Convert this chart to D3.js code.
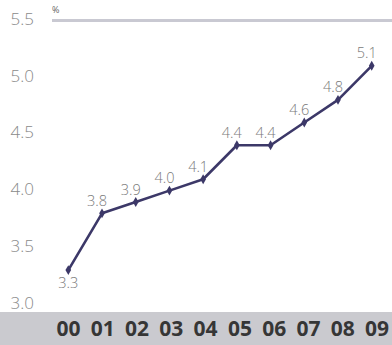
<!DOCTYPE html>
<html>
<head>
<meta charset="utf-8">
<script src="https://cdn.jsdelivr.net/npm/d3@7"></script>
<style>
  html, body { margin: 0; padding: 0; background: #ffffff; }
  svg { display: block; }
</style>
</head>
<body>
<svg id="chart" width="392" height="345"></svg>
<script>
// Annual values, 2000–2009 (%)
const years = ["00", "01", "02", "03", "04", "05", "06", "07", "08", "09"];
const values = [3.3, 3.8, 3.9, 4.0, 4.1, 4.4, 4.4, 4.6, 4.8, 5.1];
const yTicks = [3.0, 3.5, 4.0, 4.5, 5.0, 5.5];
const unitLabel = "%";

const W = 392, H = 345;
const svg = d3.select("#chart");

const x = d3.scalePoint().domain(years).range([68.3, 371.7]);
const xLabels = d3.scalePoint().domain(years).range([68, 376.5]);
const y = d3.scaleLinear().domain([3.0, 5.5]).range([304.1, 20.4]);

// bottom category band
const bandTop = 312;
svg.append("rect")
  .attr("x", 0).attr("y", bandTop)
  .attr("width", W).attr("height", H - bandTop)
  .attr("fill", "#cacacf");

// top rule at 5.5
svg.append("line")
  .attr("x1", 52).attr("x2", W)
  .attr("y1", y(5.5)).attr("y2", y(5.5))
  .attr("stroke", "#c9c9d2").attr("stroke-width", 3);

svg.append("text")
  .attr("x", 52).attr("y", y(5.5) - 7.5)
  .attr("font-family", "Open Sans, sans-serif")
  .attr("font-size", 9)
  .attr("fill", "#666")
  .text(unitLabel);

// y axis labels (no axis line)
const yAxis = d3.axisLeft(y).tickValues(yTicks).tickFormat(d3.format(".1f")).tickSize(0);
const gy = svg.append("g").attr("transform", "translate(10.5,0)").call(yAxis);
gy.select(".domain").remove();
gy.selectAll("text")
  .attr("text-anchor", "start")
  .attr("x", 0)
  .attr("dy", "0.32em")
  .attr("transform", "translate(0,-1.5)")
  .attr("font-family", "Open Sans, sans-serif")
  .attr("font-weight", 300)
  .attr("font-size", 17)
  .attr("fill", "#8a8a8a");

// x axis category labels in the band
const xAxis = d3.axisBottom(xLabels).tickSize(0);
const gx = svg.append("g").attr("transform", `translate(0,${bandTop})`).call(xAxis);
gx.select(".domain").remove();
gx.selectAll("text")
  .attr("y", 0)
  .attr("dy", "0.8em")
  .attr("transform", "translate(0,7)")
  .attr("font-family", "Open Sans, sans-serif")
  .attr("font-weight", 700)
  .attr("font-size", 21)
  .attr("fill", "#363636");

// the series line
const lineColor = "#3c3868";
const line = d3.line().x((d, i) => x(years[i])).y(d => y(d));
svg.append("path")
  .datum(values)
  .attr("d", line)
  .attr("fill", "none")
  .attr("stroke", lineColor)
  .attr("stroke-width", 2.6)
  .attr("stroke-linejoin", "round");

// diamond markers
const diamond = d3.symbol().type(d3.symbolDiamond).size(28);
svg.append("g").selectAll("path")
  .data(values)
  .join("path")
  .attr("d", diamond)
  .attr("transform", (d, i) => `translate(${x(years[i])},${y(d)})`)
  .attr("fill", lineColor);

// value labels: above-left of each point, the first one below
svg.append("g").selectAll("text")
  .data(values)
  .join("text")
  .attr("x", (d, i) => x(years[i]) + (i === 0 ? 0 : -5))
  .attr("y", (d, i) => y(d) + (i === 0 ? 13 : -12.5))
  .attr("dy", "0.35em")
  .attr("text-anchor", "middle")
  .attr("font-family", "Open Sans, sans-serif")
  .attr("font-weight", 300)
  .attr("font-size", 14.5)
  .attr("fill", "#7a7a7a")
  .text(d => d3.format(".1f")(d));
</script>
</body>
</html>
